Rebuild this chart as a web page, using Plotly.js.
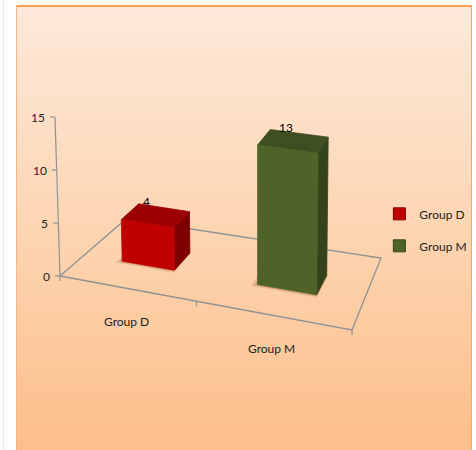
<!DOCTYPE html>
<html><head><meta charset="utf-8">
<script src="https://cdn.plot.ly/plotly-3.0.1.min.js"></script>
<style>
html,body{margin:0;padding:0;background:#fff;width:476px;height:450px;overflow:hidden;}
#frame{position:absolute;left:16px;top:5px;width:454px;height:450px;border-top:2px solid #f8a052;border-left:1px solid #f3b58a;border-right:1px solid #f6a866;
background:linear-gradient(to bottom,#fde9da 0%,#fdd9ba 40%,#fcbe89 100%);}
#chart{position:absolute;left:0;top:0;width:476px;height:450px;}
#edge{position:absolute;left:3px;top:0;width:1px;height:450px;background:#f3e6da;}
</style></head>
<body>
<div id="edge"></div>
<div id="frame"></div>
<div id="chart"></div>
<script>
// ---- data ----
const categories = ['Group D', 'Group M'];
const values = [4, 13];
const zTicks = [0, 5, 10, 15];
const frontColors = ['#c00000', '#4f6228'];
const topColors = ['#9c0000', '#3f4e21'];
const sideColors = ['#7c0000', '#34431c'];

// ---- projection (floor corners on screen, vertical scale) ----
const FONT = 'Lato, "Liberation Sans Narrow", Roboto, sans-serif';
const C = [[60, 276], [352, 330], [381, 258], [126, 219]]; // floor FL, FR, BR, BL
const S0 = 10.6, VX = 258, VD = 6300, XMAX = 2, ZMAX = 15;
const dx1 = C[1][0] - C[2][0], dy1 = C[1][1] - C[2][1];
const dx2 = C[3][0] - C[2][0], dy2 = C[3][1] - C[2][1];
const dx3 = C[0][0] - C[1][0] + C[2][0] - C[3][0], dy3 = C[0][1] - C[1][1] + C[2][1] - C[3][1];
const den = dx1 * dy2 - dx2 * dy1;
const g = (dx3 * dy2 - dx2 * dy3) / den, h = (dx1 * dy3 - dx3 * dy1) / den;
const a = C[1][0] - C[0][0] + g * C[1][0], b = C[3][0] - C[0][0] + h * C[3][0], c = C[0][0];
const d = C[1][1] - C[0][1] + g * C[1][1], e = C[3][1] - C[0][1] + h * C[3][1], f = C[0][1];
function P(X, Y, Z) {
  const u = X / XMAX, v = Y, w = g * u + h * v + 1;
  const px = (a * u + b * v + c) / w, py = (d * u + e * v + f) / w;
  const zp = Z * S0 / Math.sqrt(w);
  return [px + (px - VX) * zp / VD, py - zp];
}
function poly(pts) {
  const q = pts.map(p => P(p[0], p[1], p[2]));
  q.push(q[0]);
  return {x: q.map(p => p[0]), y: q.map(p => p[1])};
}
function segs(list) {
  const x = [], y = [];
  list.forEach(s => { x.push(s[0][0], s[1][0], null); y.push(s[0][1], s[1][1], null); });
  return {x, y};
}

const traces = [];
const LINE = '#8f9294';

// floor outline
const fl = poly([[0, 0, 0], [XMAX, 0, 0], [XMAX, 1, 0], [0, 1, 0]]);
traces.push({type: 'scatter', mode: 'lines', x: fl.x, y: fl.y, line: {color: LINE, width: 1.3},
  showlegend: false, hoverinfo: 'skip'});

// z axis + ticks, category ticks
const zTop = P(0, 0, ZMAX), zBot = P(0, 0, 0);
const tickSegs = [[zBot, zTop]];
zTicks.forEach(t => { const p = P(0, 0, t); tickSegs.push([p, [p[0] - 5, p[1]]]); });
for (let k = 0; k <= categories.length; k++) { const p = P(k, 0, 0); tickSegs.push([p, [p[0], p[1] + 5]]); }
const ts = segs(tickSegs);
traces.push({type: 'scatter', mode: 'lines', x: ts.x, y: ts.y, line: {color: LINE, width: 1.2},
  showlegend: false, hoverinfo: 'skip'});

// bars
const OFF = 0.5, HW = 0.2, Y0 = 0.34, Y1 = 0.62;
categories.forEach((name, i) => {
  const xa = i + OFF - HW, xb = i + OFF + HW, hgt = values[i];
  // soft shadow on the floor
  [[0.035, 0.12], [0.018, 0.2]].forEach(([pad, alpha]) => {
    const s = poly([[xa - pad, Y0 - pad, 0], [xb + pad * 0.3, Y0 - pad, 0], [xb + pad * 0.3, Y1, 0], [xa - pad, Y1, 0]]);
    traces.push({type: 'scatter', mode: 'lines', x: s.x, y: s.y, fill: 'toself',
      fillcolor: `rgba(110,50,10,${alpha})`, line: {width: 0}, showlegend: false, hoverinfo: 'skip'});
  });
  const faces = [
    [[[xb, Y0, 0], [xb, Y1, 0], [xb, Y1, hgt], [xb, Y0, hgt]], sideColors[i]],
    [[[xa, Y0, hgt], [xb, Y0, hgt], [xb, Y1, hgt], [xa, Y1, hgt]], topColors[i]],
    [[[xa, Y0, 0], [xb, Y0, 0], [xb, Y0, hgt], [xa, Y0, hgt]], frontColors[i]]
  ];
  faces.forEach(([pts, col]) => {
    const p = poly(pts);
    traces.push({type: 'scatter', mode: 'lines', x: p.x, y: p.y, fill: 'toself', fillcolor: col,
      line: {color: col, width: 0.8}, showlegend: false, hoverinfo: 'skip'});
  });
});

// legend entries
categories.forEach((name, i) => {
  traces.push({type: 'bar', name: name, legendgroup: name, x: [null], y: [null],
    marker: {color: frontColors[i], line: {color: sideColors[i], width: 1}}});
});

// text
const annotations = [];
zTicks.forEach(t => {
  const p = P(0, 0, t);
  annotations.push({x: p[0] - 8, y: p[1], text: String(t), xanchor: 'right', yanchor: 'middle',
    showarrow: false, font: {family: FONT, size: 12, color: '#222'}});
});
categories.forEach((name, i) => {
  const p = P(i + 0.5, 0, 0);
  annotations.push({x: p[0], y: p[1], text: name, xanchor: 'center', yanchor: 'middle', xshift: 0, yshift: -33,
    showarrow: false, font: {family: FONT, size: 12, color: '#222'}});
  const q = P(i + OFF, Y0, values[i]);
  annotations.push({x: q[0], y: q[1], text: String(values[i]), xanchor: 'center', yanchor: 'middle', xshift: -1, yshift: 22,
    showarrow: false, font: {family: FONT, size: 12, color: '#000'}});
});

const layout = {
  width: 476, height: 450,
  margin: {l: 0, r: 0, t: 0, b: 0},
  paper_bgcolor: 'rgba(0,0,0,0)', plot_bgcolor: 'rgba(0,0,0,0)',
  font: {family: FONT, size: 12, color: '#222'},
  xaxis: {range: [0, 476], visible: false, fixedrange: true},
  yaxis: {range: [450, 0], visible: false, fixedrange: true},
  showlegend: true,
  legend: {x: 0.797, y: 0.557, xanchor: 'left', yanchor: 'top', bgcolor: 'rgba(0,0,0,0)',
    font: {family: FONT, size: 12, color: '#222'}, tracegroupgap: 13},
  annotations: annotations
};

Plotly.newPlot('chart', traces, layout, {displayModeBar: false, staticPlot: true});
</script>
</body></html>
